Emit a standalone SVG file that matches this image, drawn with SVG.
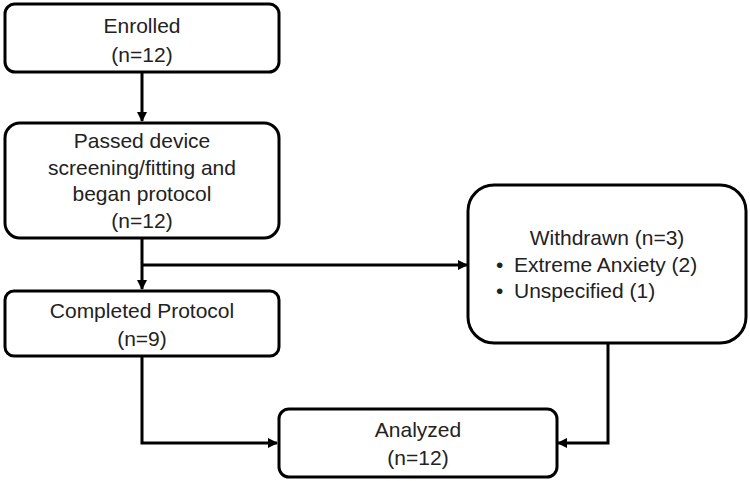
<svg xmlns="http://www.w3.org/2000/svg" width="750" height="481" viewBox="0 0 750 481">
<defs>
<style>
.box{fill:#fff;stroke:#000;stroke-width:3}
.t{font-family:"Liberation Sans",Arial,sans-serif;font-size:21px;fill:#222}
.c{text-anchor:middle}
.ln{fill:none;stroke:#000;stroke-width:3}
</style>
<marker id="ah" markerWidth="10" markerHeight="10" refX="9" refY="5" orient="auto" markerUnits="userSpaceOnUse" viewBox="0 0 10 10">
<path d="M0,0 L10,5 L0,10 z" fill="#000"/>
</marker>
</defs>
<rect width="750" height="481" fill="#fff"/>
<g id="connectors">
<path class="ln" d="M142,72 V121" marker-end="url(#ah)"/>
<path class="ln" d="M142,238 V289" marker-end="url(#ah)"/>
<path class="ln" d="M142,265 H467" marker-end="url(#ah)"/>
<path class="ln" d="M142,356 V443 H277" marker-end="url(#ah)"/>
<path class="ln" d="M608,343 V443 H558" marker-end="url(#ah)"/>
</g>
<g id="enrolled">
<rect class="box" x="5" y="4" width="274" height="68" rx="10"/>
<text class="t c" x="142" y="33">Enrolled</text>
<text class="t c" x="142" y="62">(n=12)</text>
</g>
<g id="passed">
<rect class="box" x="5" y="123" width="274" height="115" rx="15"/>
<text class="t c" x="142" y="148">Passed device</text>
<text class="t c" x="142" y="175">screening/fitting and</text>
<text class="t c" x="142" y="201">began protocol</text>
<text class="t c" x="142" y="228">(n=12)</text>
</g>
<g id="completed">
<rect class="box" x="5" y="291" width="274" height="65" rx="9"/>
<text class="t c" x="142" y="318">Completed Protocol</text>
<text class="t c" x="142" y="346">(n=9)</text>
</g>
<g id="withdrawn">
<rect class="box" x="468" y="185" width="278" height="158" rx="26"/>
<text class="t c" x="607" y="245">Withdrawn (n=3)</text>
<text class="t" x="496" y="272">•</text>
<text class="t" x="514" y="272">Extreme Anxiety (2)</text>
<text class="t" x="496" y="298">•</text>
<text class="t" x="514" y="298">Unspecified (1)</text>
</g>
<g id="analyzed">
<rect class="box" x="279" y="409" width="278" height="68" rx="10"/>
<text class="t c" x="418" y="437">Analyzed</text>
<text class="t c" x="418" y="465">(n=12)</text>
</g>
</svg>
